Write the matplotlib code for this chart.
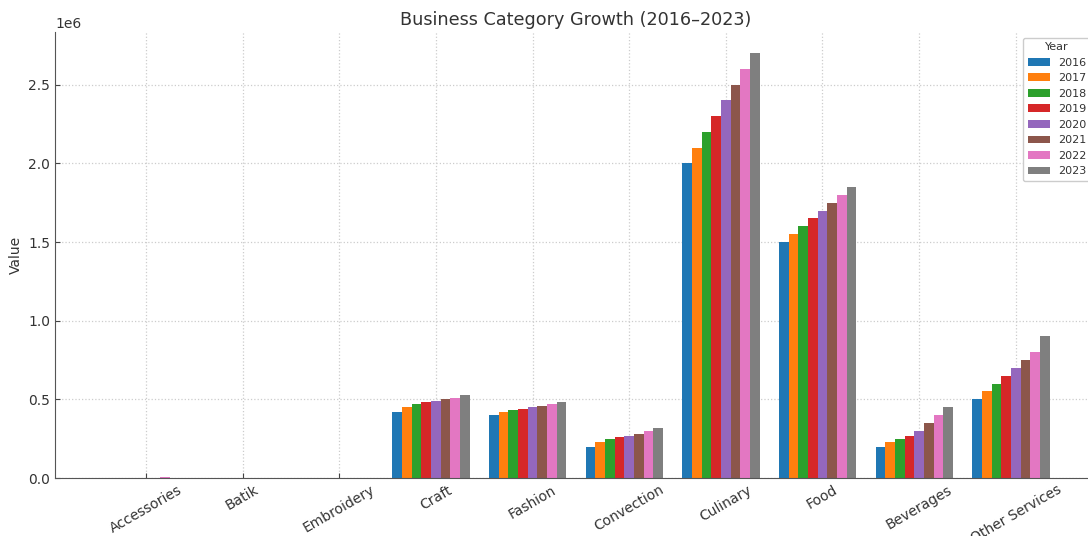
import matplotlib
matplotlib.use("Agg")
import matplotlib.pyplot as plt
import numpy as np

categories = ["Accessories", "Batik", "Embroidery", "Craft", "Fashion", "Convection",
              "Culinary", "Food", "Beverages", "Other Services"]
years = ["2016", "2017", "2018", "2019", "2020", "2021", "2022", "2023"]

# values per category (2016..2023), in units
accessories = [0, 0, 0, 0, 0, 2000, 6000, 3000]
batik = [0, 0, 0, 0, 0, 0, 0, 0]
embroidery = [0, 0, 0, 0, 0, 0, 0, 0]
craft = [420000, 450000, 470000, 480000, 490000, 500000, 510000, 530000]
fashion = [400000, 420000, 430000, 440000, 450000, 460000, 470000, 480000]
convection = [200000, 230000, 250000, 260000, 270000, 280000, 300000, 320000]
culinary = [2000000, 2100000, 2200000, 2300000, 2400000, 2500000, 2600000, 2700000]
food = [1500000, 1550000, 1600000, 1650000, 1700000, 1750000, 1800000, 1850000]
beverages = [200000, 230000, 250000, 270000, 300000, 350000, 400000, 450000]
other_services = [500000, 550000, 600000, 650000, 700000, 750000, 800000, 900000]

table = np.array([accessories, batik, embroidery, craft, fashion, convection,
                  culinary, food, beverages, other_services])

colors = ["#1f77b4", "#ff7f0e", "#2ca02c", "#d62728", "#9467bd",
          "#8c564b", "#e377c2", "#7f7f7f"]

txt = "#333333"
fig = plt.figure(figsize=(10.88, 5.36), dpi=100)
ax = fig.add_axes([55/1088, 58/536, (1097-55)/1088, (478-32)/536])

x = np.arange(len(categories))
w = 0.1
for i, yr in enumerate(years):
    ax.bar(x + (i - 4) * w, table[:, i], width=w, color=colors[i], label=yr, zorder=2)

ax.set_xticks(x)
ax.set_xticklabels(categories, rotation=30, color=txt, fontsize=10)
ax.tick_params(axis="both", direction="in", colors="#444444", labelcolor=txt, labelsize=10)
ax.grid(True, linestyle=":", color="#cccccc", linewidth=0.9, zorder=0)
ax.set_axisbelow(True)
for s in ["top", "right"]:
    ax.spines[s].set_visible(False)
for s in ["left", "bottom"]:
    ax.spines[s].set_color("#555555")
ax.set_ylabel("Value", color=txt, fontsize=10)
ax.set_title("Business Category Growth (2016\u20132023)", color=txt, fontsize=12.7, pad=5)
ax.yaxis.get_offset_text().set_color(txt)
leg = ax.legend(title="Year", fontsize=8, title_fontsize=8, loc="upper right",
                framealpha=1, edgecolor="#cccccc")
for t in leg.get_texts():
    t.set_color(txt)
leg.get_title().set_color(txt)

fig.savefig("out.png", dpi=100)
